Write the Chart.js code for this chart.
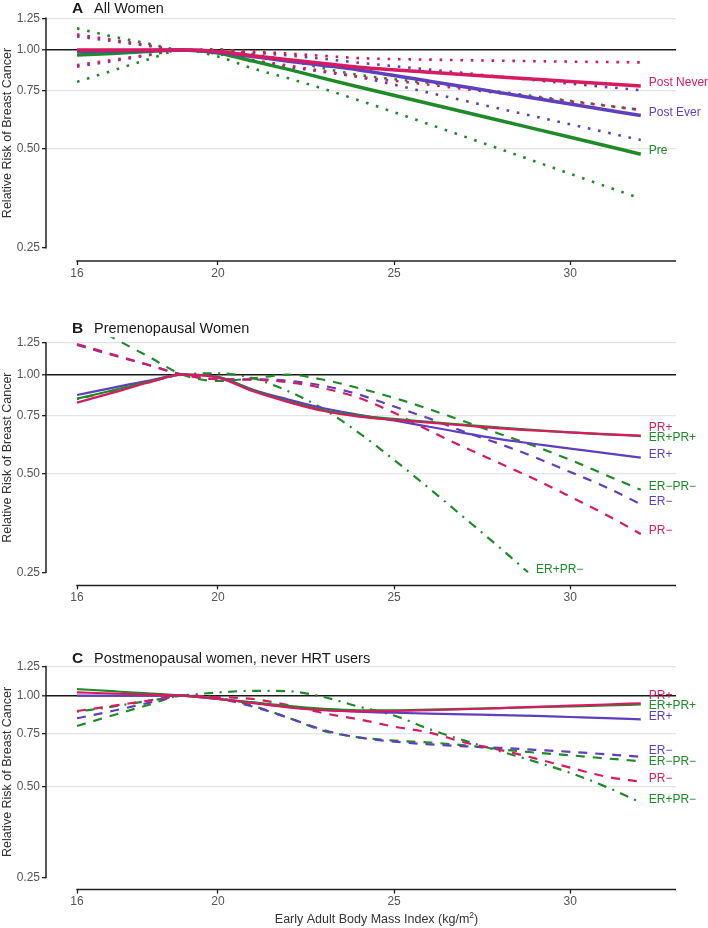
<!DOCTYPE html>
<html>
<head>
<meta charset="utf-8">
<script src="https://cdn.jsdelivr.net/npm/chart.js@4.4.0/dist/chart.umd.min.js"></script>
<style>
  html, body { margin: 0; padding: 0; background: #fff; }
  #wrap { position: relative; width: 708px; height: 928px; }
  .panel { position: absolute; left: 0; width: 708px; }
  canvas { display: block; }
</style>
</head>
<body>
<div id="wrap">
  <div class="panel" style="top:0"><canvas id="chartA" width="708" height="285"></canvas></div>
  <div class="panel" style="top:285px"><canvas id="chartB" width="708" height="320"></canvas></div>
  <div class="panel" style="top:605px"><canvas id="chartC" width="708" height="323"></canvas></div>
</div>
<script>
// ticks
const xTicks = [16, 20, 25, 30];
const yTicks = [0.25, 0.50, 0.75, 1.00, 1.25];

// panel A: all women (solid = estimate, dotted = 95% CI)
const bmiA = [16, 17, 18, 19, 20, 21, 22, 23, 24, 26, 28, 30, 32];
const postNever      = [1.0, 1.0, 1.0, 1.0, 0.99, 0.96, 0.935, 0.91, 0.886, 0.856, 0.828, 0.802, 0.777];
const postNeverUpper = [1.115, 1.075, 1.035, 1.0, 1.0, 0.99, 0.975, 0.96, 0.945, 0.935, 0.928, 0.922, 0.917];
const postNeverLower = [0.90, 0.933, 0.966, 1.0, 0.98, 0.932, 0.897, 0.862, 0.83, 0.784, 0.739, 0.698, 0.657];
const postEver       = [0.99, 0.993, 0.997, 1.0, 0.985, 0.955, 0.925, 0.898, 0.87, 0.804, 0.742, 0.685, 0.632];
const postEverUpper  = [1.10, 1.065, 1.03, 1.0, 0.997, 0.982, 0.963, 0.94, 0.915, 0.872, 0.83, 0.79, 0.755];
const postEverLower  = [0.89, 0.925, 0.963, 1.0, 0.973, 0.928, 0.888, 0.858, 0.827, 0.741, 0.663, 0.594, 0.532];
const pre            = [0.965, 0.976, 0.989, 1.0, 0.98, 0.925, 0.873, 0.82, 0.772, 0.686, 0.61, 0.543, 0.482];
const preUpper       = [1.164, 1.10, 1.047, 1.0, 1.005, 0.97, 0.93, 0.88, 0.84, 0.794, 0.746, 0.70, 0.657];
const preLower       = [0.80, 0.865, 0.935, 1.0, 0.955, 0.878, 0.82, 0.762, 0.703, 0.594, 0.50, 0.42, 0.353];

// panels B and C share the BMI grid
const bmi = [16, 17, 18, 19, 20, 21, 22, 23, 24, 25, 26, 27, 28, 29, 30, 31, 32];

// panel B: premenopausal women
const bPRpos     = [0.822, 0.88, 0.945, 1.0, 0.98, 0.89, 0.825, 0.775, 0.745, 0.728, 0.714, 0.70, 0.686, 0.676, 0.667, 0.659, 0.652];
const bERposPRpos= [0.845, 0.895, 0.95, 1.0, 0.983, 0.895, 0.83, 0.78, 0.75, 0.733, 0.718, 0.703, 0.69, 0.678, 0.667, 0.658, 0.65];
const bERpos     = [0.867, 0.912, 0.958, 1.0, 0.985, 0.90, 0.84, 0.79, 0.755, 0.725, 0.694, 0.664, 0.636, 0.615, 0.595, 0.577, 0.559];
const bERnegPRneg= [1.49, 1.30, 1.14, 1.0, 0.957, 0.975, 1.0, 0.965, 0.91, 0.85, 0.785, 0.72, 0.66, 0.605, 0.55, 0.495, 0.446];
const bERneg     = [1.232, 1.148, 1.072, 1.0, 0.97, 0.968, 0.958, 0.925, 0.87, 0.80, 0.735, 0.67, 0.615, 0.56, 0.505, 0.455, 0.403];
const bPRneg     = [1.24, 1.154, 1.074, 1.0, 0.968, 0.965, 0.948, 0.909, 0.85, 0.765, 0.675, 0.60, 0.537, 0.48, 0.425, 0.375, 0.327];
const bmiBdd     = [16, 17, 18, 19, 20, 21, 22, 23, 24, 25, 26, 27, 28, 28.8];
const bERposPRneg= [0.843, 0.893, 0.948, 1.0, 1.01, 0.975, 0.89, 0.785, 0.665, 0.55, 0.45, 0.366, 0.297, 0.25];

// panel C: postmenopausal women, never HRT users
const cPRpos     = [1.026, 1.017, 1.008, 1.0, 0.975, 0.945, 0.915, 0.895, 0.888, 0.89, 0.895, 0.902, 0.91, 0.918, 0.927, 0.935, 0.944];
const cERposPRpos= [1.052, 1.035, 1.018, 1.0, 0.975, 0.95, 0.925, 0.905, 0.895, 0.895, 0.9, 0.905, 0.91, 0.916, 0.922, 0.928, 0.935];
const cERpos     = [1.0, 1.0, 1.0, 1.0, 0.975, 0.948, 0.918, 0.897, 0.885, 0.878, 0.872, 0.867, 0.863, 0.857, 0.85, 0.843, 0.835];
const cERneg     = [0.842, 0.89, 0.945, 1.0, 0.98, 0.92, 0.845, 0.77, 0.727, 0.705, 0.69, 0.68, 0.672, 0.662, 0.652, 0.64, 0.628];
const cERnegPRneg= [0.794, 0.86, 0.93, 1.0, 0.985, 0.925, 0.845, 0.765, 0.728, 0.71, 0.70, 0.685, 0.665, 0.648, 0.635, 0.62, 0.607];
const cPRneg     = [0.89, 0.925, 0.962, 1.0, 0.99, 0.975, 0.93, 0.875, 0.835, 0.79, 0.755, 0.70, 0.662, 0.62, 0.578, 0.54, 0.519];
const cERposPRneg= [0.885, 0.92, 0.96, 1.0, 1.025, 1.038, 1.035, 0.99, 0.92, 0.86, 0.775, 0.71, 0.655, 0.605, 0.555, 0.50, 0.443];

const PINK = '#D81B60', PURPLE = '#5E3FBE', GREEN = '#1E8B28';
const FONT = '"Liberation Sans", Arial, Helvetica, sans-serif';
const DOTTED = [2.6, 7.8], DASHED = [9, 8], DOTDASH = [2, 6.5, 9, 6.5];

function pts(xs, ys) { return xs.map((x, i) => ({ x: x, y: ys[i] })); }

function line(xs, ys, color, width, dash, endLabel) {
  return {
    data: pts(xs, ys), borderColor: color, borderWidth: width,
    borderDash: dash || [], borderCapStyle: 'butt', fill: false,
    pointRadius: 0, endLabel: endLabel || null
  };
}

// axis lines, titles and the right-hand line labels
const panelDecor = {
  id: 'panelDecor',
  afterDraw(chart, args, o) {
    const ctx = chart.ctx, a = chart.chartArea;
    const xs = chart.scales.x, ys = chart.scales.y;
    ctx.save();

    ctx.strokeStyle = '#222';
    ctx.lineWidth = 1.5;
    ctx.beginPath();
    ctx.moveTo(a.left, ys.getPixelForValue(yTicks[0]) + 0.75);
    ctx.lineTo(a.left, ys.getPixelForValue(yTicks[yTicks.length - 1]) - 0.75);
    ctx.moveTo(xs.getPixelForValue(xTicks[0]) - 0.75, a.bottom);
    ctx.lineTo(a.right, a.bottom);
    ctx.stroke();

    // panel title
    ctx.fillStyle = '#1a1a1a';
    ctx.textBaseline = 'alphabetic';
    ctx.textAlign = 'left';
    ctx.font = 'bold 15.5px ' + FONT;
    ctx.fillText(o.letter, 72, o.titleY);
    ctx.font = '14.5px ' + FONT;
    ctx.fillText(o.title, 94, o.titleY);

    // y axis title, centred on the axis line
    const yMid = (ys.getPixelForValue(yTicks[0]) + ys.getPixelForValue(yTicks[yTicks.length - 1])) / 2;
    ctx.save();
    ctx.translate(8, yMid);
    ctx.rotate(-Math.PI / 2);
    ctx.textAlign = 'center';
    ctx.textBaseline = 'middle';
    ctx.font = '12.5px ' + FONT;
    ctx.fillStyle = '#333';
    ctx.fillText('Relative Risk of Breast Cancer', 0, 0);
    ctx.restore();

    // x axis title (last panel only)
    if (o.xTitleY) {
      const xMid = (xs.getPixelForValue(xTicks[0]) + a.right) / 2;
      const p1 = 'Early Adult Body Mass Index (kg/m', p2 = '2', p3 = ')';
      ctx.font = '12.5px ' + FONT;
      const w1 = ctx.measureText(p1).width, w3 = ctx.measureText(p3).width;
      ctx.font = '8.5px ' + FONT;
      const w2 = ctx.measureText(p2).width;
      let x0 = xMid - (w1 + w2 + w3) / 2;
      ctx.fillStyle = '#333';
      ctx.textAlign = 'left';
      ctx.textBaseline = 'alphabetic';
      ctx.font = '12.5px ' + FONT;
      ctx.fillText(p1, x0, o.xTitleY);
      ctx.font = '8.5px ' + FONT;
      ctx.fillText(p2, x0 + w1, o.xTitleY - 5);
      ctx.font = '12.5px ' + FONT;
      ctx.fillText(p3, x0 + w1 + w2, o.xTitleY);
    }

    // labels at the end of each line, nudged apart
    const labs = [];
    chart.data.datasets.forEach((ds, i) => {
      if (!ds.endLabel) return;
      const el = chart.getDatasetMeta(i).data;
      const p = el[el.length - 1];
      labs.push({ text: ds.endLabel, color: ds.borderColor, x: p.x + 8, y: p.y - 3 });
    });
    labs.sort((m, n) => m.y - n.y);
    for (let it = 0; it < 80; it++) {
      for (let k = 1; k < labs.length; k++) {
        const gap = labs[k].y - labs[k - 1].y;
        if (gap < 10.5 && Math.abs(labs[k].x - labs[k - 1].x) < 40) {
          const d = (10.5 - gap) / 2;
          labs[k].y += d;
          labs[k - 1].y -= d;
        }
      }
    }
    ctx.font = '12px ' + FONT;
    ctx.textAlign = 'left';
    ctx.textBaseline = 'middle';
    labs.forEach(l => { ctx.fillStyle = l.color; ctx.fillText(l.text, l.x, l.y); });
    ctx.restore();
  }
};

function panelOptions(p) {
  return {
    responsive: false,
    animation: false,
    events: [],
    layout: { autoPadding: false, padding: { top: p.padTop, right: 32, left: 0, bottom: 0 } },
    elements: { line: { cubicInterpolationMode: 'monotone' }, point: { radius: 0 } },
    plugins: {
      legend: { display: false },
      tooltip: { enabled: false },
      panelDecor: p
    },
    scales: {
      x: {
        type: 'linear', min: 15.12, max: 33,
        afterBuildTicks: s => { s.ticks = xTicks.map(v => ({ value: v })); },
        afterFit: s => { s.height = p.xHeight; },
        border: { display: false },
        grid: { drawOnChartArea: false, tickLength: 4, tickColor: '#222', tickWidth: 1.3 },
        ticks: { callback: v => String(v), color: '#555', font: { family: FONT, size: 12 }, padding: 1, maxRotation: 0 }
      },
      y: {
        type: 'logarithmic', min: 0.228, max: 1.3,
        afterBuildTicks: s => { s.ticks = yTicks.map(v => ({ value: v })); },
        afterFit: s => { s.width = 46; },
        border: { display: false },
        grid: {
          color: c => c.tick.value === 1 ? '#1a1a1a' : (c.tick.value === 0.25 ? 'rgba(0,0,0,0)' : '#e4e4e4'),
          lineWidth: c => c.tick.value === 1 ? 1.6 : 1.3,
          tickLength: 4, tickColor: '#222', tickWidth: 1.3
        },
        ticks: { callback: v => Number(v).toFixed(2), color: '#555', font: { family: FONT, size: 12 }, padding: 2 }
      }
    }
  };
}

new Chart(document.getElementById('chartA'), {
  type: 'line',
  data: {
    datasets: [
      line(bmiA, postNever, PINK, 3.5, null, 'Post Never'),
      line(bmiA, postEver, PURPLE, 3.5, null, 'Post Ever'),
      line(bmiA, pre, GREEN, 3.5, null, 'Pre'),
      line(bmiA, postNeverUpper, PINK, 2.6, DOTTED),
      line(bmiA, postNeverLower, PINK, 2.6, DOTTED),
      line(bmiA, postEverUpper, PURPLE, 2.6, DOTTED),
      line(bmiA, postEverLower, PURPLE, 2.6, DOTTED),
      line(bmiA, preUpper, GREEN, 2.6, DOTTED),
      line(bmiA, preLower, GREEN, 2.6, DOTTED)
    ]
  },
  options: panelOptions({ letter: 'A', title: 'All Women', titleY: 13, padTop: 12.6, xHeight: 24 }),
  plugins: [panelDecor]
});

new Chart(document.getElementById('chartB'), {
  type: 'line',
  data: {
    datasets: [
      line(bmi, bPRpos, PINK, 2.2, null, 'PR+'),
      line(bmi, bERposPRpos, GREEN, 2.2, null, 'ER+PR+'),
      line(bmi, bERpos, PURPLE, 2.2, null, 'ER+'),
      line(bmi, bPRneg, PINK, 2.2, DASHED, 'PR\u2212'),
      line(bmi, bERneg, PURPLE, 2.2, DASHED, 'ER\u2212'),
      line(bmi, bERnegPRneg, GREEN, 2.2, DASHED, 'ER\u2212PR\u2212'),
      line(bmiBdd, bERposPRneg, GREEN, 2.2, DOTDASH, 'ER+PR\u2212')
    ]
  },
  options: panelOptions({ letter: 'B', title: 'Premenopausal Women', titleY: 48.3, padTop: 52.3, xHeight: 19.6 }),
  plugins: [panelDecor]
});

new Chart(document.getElementById('chartC'), {
  type: 'line',
  data: {
    datasets: [
      line(bmi, cPRpos, PINK, 2.2, null, 'PR+'),
      line(bmi, cERposPRpos, GREEN, 2.2, null, 'ER+PR+'),
      line(bmi, cERpos, PURPLE, 2.2, null, 'ER+'),
      line(bmi, cPRneg, PINK, 2.2, DASHED, 'PR\u2212'),
      line(bmi, cERneg, PURPLE, 2.2, DASHED, 'ER\u2212'),
      line(bmi, cERnegPRneg, GREEN, 2.2, DASHED, 'ER\u2212PR\u2212'),
      line(bmi, cERposPRneg, GREEN, 2.2, DOTDASH, 'ER+PR\u2212')
    ]
  },
  options: panelOptions({ letter: 'C', title: 'Postmenopausal women, never HRT users', titleY: 57.7, padTop: 56.3, xHeight: 38.4, xTitleY: 318 }),
  plugins: [panelDecor]
});
</script>
</body>
</html>
